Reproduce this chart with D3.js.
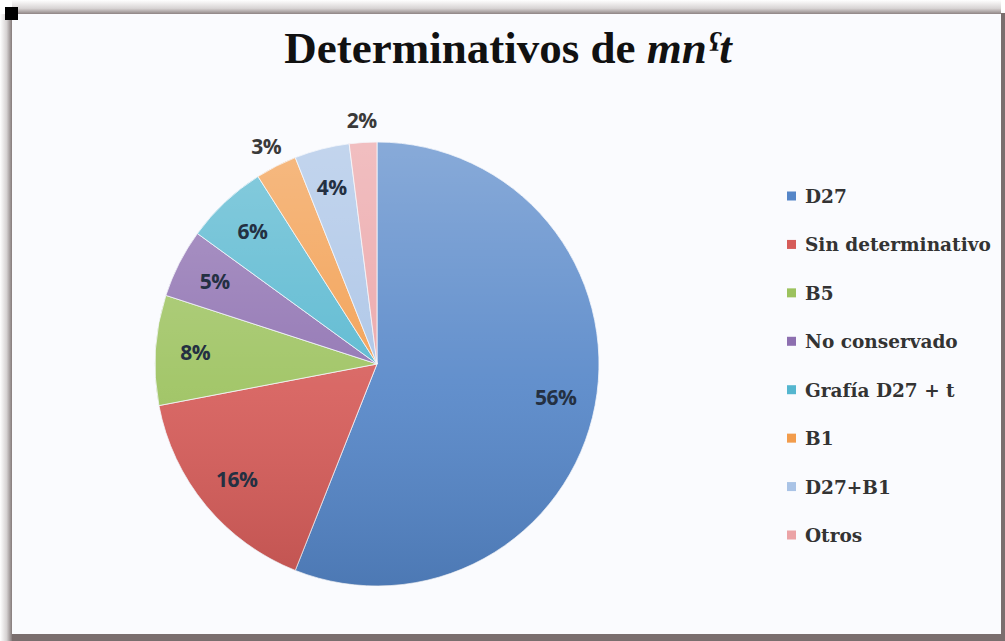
<!DOCTYPE html>
<html>
<head>
<meta charset="utf-8">
<script src="https://cdn.jsdelivr.net/npm/d3@7"></script>
<style>
  html, body { margin: 0; padding: 0; background: #ffffff; }
  svg { display: block; }
</style>
</head>
<body>
<svg id="chart" width="1005" height="641"></svg>
<script>
// Determinativos de mnˁt — share of each determinative (percent)
const categories = ["D27", "Sin determinativo", "B5", "No conservado", "Grafía D27 + t", "B1", "D27+B1", "Otros"];
const values = [56, 16, 8, 5, 6, 3, 4, 2];
const colors = ["#5586c8", "#d65c59", "#9cc25e", "#8d6fb0", "#54b6cf", "#f29c4c", "#a9c3e6", "#eba3a6"];
const outsideLabels = ["B1", "Otros"];

const W = 1005, H = 641;
const svg = d3.select("#chart");
const defs = svg.append("defs");

// page frame: soft top/left shadow, solid right/bottom edge
const gTop = defs.append("linearGradient").attr("id", "gTop").attr("x1", 0).attr("y1", 0).attr("x2", 0).attr("y2", 1);
gTop.append("stop").attr("offset", "0%").attr("stop-color", "#ffffff");
gTop.append("stop").attr("offset", "60%").attr("stop-color", "#d8d4d4");
gTop.append("stop").attr("offset", "100%").attr("stop-color", "#8e8484");
const gLeft = defs.append("linearGradient").attr("id", "gLeft").attr("x1", 0).attr("y1", 0).attr("x2", 1).attr("y2", 0);
gLeft.append("stop").attr("offset", "0%").attr("stop-color", "#ffffff");
gLeft.append("stop").attr("offset", "55%").attr("stop-color", "#d6d2d2");
gLeft.append("stop").attr("offset", "100%").attr("stop-color", "#847a7a");

svg.append("rect").attr("x", 0).attr("y", 0).attr("width", W).attr("height", H).attr("fill", "#ffffff");
svg.append("rect").attr("x", 12).attr("y", 14).attr("width", 989).attr("height", 620).attr("fill", "#fafbfe");
svg.append("rect").attr("x", 12).attr("y", 0).attr("width", 989).attr("height", 14).attr("fill", "url(#gTop)");
svg.append("rect").attr("x", 0).attr("y", 14).attr("width", 12).attr("height", 627).attr("fill", "url(#gLeft)");
svg.append("rect").attr("x", 1001).attr("y", 13).attr("width", 4).attr("height", 628).attr("fill", "#7a6e6e");
svg.append("rect").attr("x", 12).attr("y", 634).attr("width", 993).attr("height", 7).attr("fill", "#7a6e6e");
svg.append("rect").attr("x", 5).attr("y", 7).attr("width", 13).attr("height", 13).attr("fill", "#000000");

// title
const title = svg.append("text")
  .attr("x", 508).attr("y", 63)
  .attr("text-anchor", "middle")
  .attr("font-family", "'Liberation Serif', 'Times New Roman', serif")
  .attr("font-weight", "bold")
  .attr("font-size", 45)
  .attr("fill", "#111111");
title.append("tspan").text("Determinativos de ");
title.append("tspan").attr("font-style", "italic").text("mnˁt");

// pie
const cx = 377, cy = 364, r = 222;
const pie = d3.pie().value(d => d.value).sort(null);
const data = categories.map((c, i) => ({ name: c, value: values[i], color: colors[i] }));
const arcs = pie(data);
const arc = d3.arc().innerRadius(0).outerRadius(r);

const shade = defs.append("linearGradient").attr("id", "shade")
  .attr("gradientUnits", "userSpaceOnUse")
  .attr("x1", 0).attr("y1", -r).attr("x2", 0).attr("y2", r);
shade.append("stop").attr("offset", "0%").attr("stop-color", "#ffffff").attr("stop-opacity", 0.3);
shade.append("stop").attr("offset", "55%").attr("stop-color", "#ffffff").attr("stop-opacity", 0.08);
shade.append("stop").attr("offset", "100%").attr("stop-color", "#000000").attr("stop-opacity", 0.1);

const pg = svg.append("g").attr("transform", `translate(${cx},${cy})`);
pg.selectAll("path.slice").data(arcs).join("path")
  .attr("class", "slice")
  .attr("d", arc)
  .attr("fill", d => d.data.color)
  .attr("stroke", "#f4f6fb")
  .attr("stroke-width", 0.8);
pg.append("circle").attr("r", r).attr("fill", "url(#shade)").attr("pointer-events", "none");

// value labels
const inArc = d3.arc().innerRadius(r * 0.82).outerRadius(r * 0.82);
const outArc = d3.arc().innerRadius(r * 1.1).outerRadius(r * 1.1);
pg.selectAll("text.val").data(arcs).join("text")
  .attr("class", "val")
  .attr("transform", d => {
    const a = outsideLabels.includes(d.data.name) ? outArc : inArc;
    const [x, y] = a.centroid(d);
    return `translate(${x},${y})`;
  })
  .attr("text-anchor", "middle")
  .attr("dy", "0.35em")
  .attr("font-family", "'Open Sans', Lato, sans-serif")
  .attr("font-weight", 700)
  .attr("font-size", 21)
  .attr("letter-spacing", -0.5)
  .attr("fill", d => outsideLabels.includes(d.data.name) ? "#3a3a3a" : "#243042")
  .text(d => d.data.value + "%");

// legend
const ly = d3.scalePoint().domain(categories).range([196, 535]);
const lg = svg.append("g");
const rows = lg.selectAll("g.row").data(data).join("g")
  .attr("class", "row")
  .attr("transform", d => `translate(787,${ly(d.name)})`);
rows.append("rect").attr("x", 0).attr("y", -4.5).attr("width", 9).attr("height", 9)
  .attr("fill", d => d.color);
rows.append("text")
  .attr("x", 18).attr("y", 7)
  .attr("font-family", "'DejaVu Serif', serif")
  .attr("font-weight", "bold")
  .attr("font-size", 18.5)
  .attr("fill", "#333333")
  .text(d => d.name);
</script>
</body>
</html>
